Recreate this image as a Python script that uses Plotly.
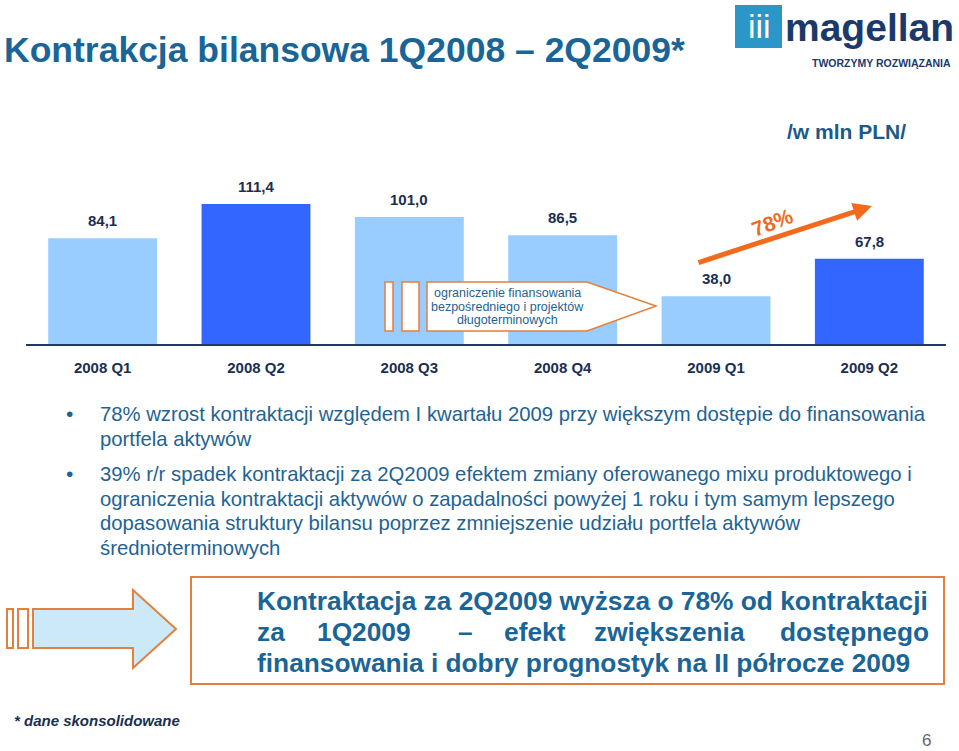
import plotly.graph_objects as go

# dane
kwartaly = ['2008 Q1', '2008 Q2', '2008 Q3', '2008 Q4', '2009 Q1', '2009 Q2']
kontraktacja = [84.1, 111.4, 101.0, 86.5, 38.0, 67.8]
kolory = ['#99CCFF', '#3366FF', '#99CCFF', '#99CCFF', '#99CCFF', '#3366FF']

punkt1 = ['78% wzrost kontraktacji względem I kwartału 2009 przy większym dostępie do finansowania',
          'portfela aktywów']
punkt2 = ['39% r/r spadek kontraktacji za 2Q2009 efektem zmiany oferowanego mixu produktowego i',
          'ograniczenia kontraktacji aktywów o zapadalności powyżej 1 roku i tym samym lepszego',
          'dopasowania struktury bilansu poprzez zmniejszenie udziału portfela aktywów',
          'średnioterminowych']
dymek = ['ograniczenie finansowania', 'bezpośredniego i projektów', 'długoterminowych']

W, H = 959, 751
NAVY = '#1B2F52'
TEAL = '#1E6394'
ORANGE = '#E2803E'
FONT = 'Arial, Liberation Sans, sans-serif'


def px(x):
    return x / W


def py(y):
    return 1 - y / H


def path(points):
    s = 'M ' + ' L '.join(f'{px(x):.5f} {py(y):.5f}' for x, y in points)
    return s + ' Z'


def text(x, y, t, size, color=TEAL, bold=False, anchor='left', italic=False, angle=0):
    if bold:
        t = '<b>' + t + '</b>'
    if italic:
        t = '<i>' + t + '</i>'
    return dict(x=px(x), y=py(y), xref='paper', yref='paper', text=t, showarrow=False,
                xanchor=anchor, yanchor='middle', textangle=angle, borderpad=0,
                font=dict(family=FONT, size=size, color=color))


fig = go.Figure(go.Bar(x=kwartaly, y=kontraktacja, marker=dict(color=kolory, line=dict(width=0)),
                       width=0.71, hoverinfo='skip'))

ann = []
for k, v in zip(kwartaly, kontraktacja):
    ann.append(dict(x=k, y=v, xref='x', yref='y', text='<b>' + f'{v:.1f}'.replace('.', ',') + '</b>',
                    showarrow=False, yanchor='bottom', yshift=7,
                    font=dict(family=FONT, size=15, color=NAVY)))

# tytul i logo
ann.append(text(3, 50, 'Kontrakcja bilansowa 1Q2008 – 2Q2009*', 35.5, color='#1A6597', bold=True))
ann.append(text(907, 132, '/w mln PLN/', 21, color='#1A5A8A', bold=True, anchor='right'))
ann.append(text(759, 26, 'iii', 34, color='white', anchor='center'))
ann.append(text(869, 27, '<b>magellan</b>', 39, color='#1B3A6B', anchor='center'))
ann.append(text(952, 63, '<b>TWORZYMY ROZWIĄZANIA</b>', 10.5, color='#1B3A6B', anchor='right'))

# strzalka 78%
ann.append(dict(x=px(872), y=py(206), xref='paper', yref='paper', ax=697 - 872, ay=263 - 206,
                axref='pixel', ayref='pixel', text='', showarrow=True, arrowhead=2,
                arrowsize=0.75, arrowwidth=5, arrowcolor='#F26B1D'))
ann.append(text(772, 222, '78%', 21, color='#F26B1D', bold=True, anchor='center', angle=-21))

# dymek
for i, t in enumerate(dymek):
    ann.append(text(507, 293 + i * 13.5, t, 12.5, color=TEAL, anchor='center'))

# punkty
ann.append(text(65, 413, '•', 21, color=TEAL))
for i, t in enumerate(punkt1):
    ann.append(text(99, 414 + i * 25, t, 20.3))
ann.append(text(65, 473, '•', 21, color=TEAL))
for i, t in enumerate(punkt2):
    ann.append(text(99, 474 + i * 24.5, t, 20.3))

# ramka z wnioskiem
ann.append(text(256, 601, 'Kontraktacja za 2Q2009 wyższa o 78% od kontraktacji', 26.3, color='#1A6597', bold=True))
for x, t, a in [(256, 'za', 'left'), (364, '1Q2009', 'center'), (465, '–', 'center'),
                (535, 'efekt', 'center'), (669, 'zwiększenia', 'center'), (930, 'dostępnego', 'right')]:
    ann.append(text(x, 632, t, 26.3, color='#1A6597', bold=True, anchor=a))
ann.append(text(256, 663, 'finansowania i dobry prognostyk na II półrocze 2009', 26.3, color='#1A6597', bold=True))

ann.append(text(13, 720, '* dane skonsolidowane', 15, color=NAVY, bold=True, italic=True))
ann.append(text(932, 740, '6', 17, color='#666666', anchor='right'))

shapes = [
    # logo
    dict(type='rect', xref='paper', yref='paper', x0=px(735), x1=px(782), y0=py(48), y1=py(5),
         fillcolor='#2B96C8', line=dict(width=0), layer='below'),
    # dymek
    dict(type='rect', xref='paper', yref='paper', x0=px(385), x1=px(393), y0=py(331), y1=py(282),
         fillcolor='white', line=dict(color=ORANGE, width=1.5)),
    dict(type='rect', xref='paper', yref='paper', x0=px(402), x1=px(419), y0=py(331), y1=py(282),
         fillcolor='white', line=dict(color=ORANGE, width=1.5)),
    dict(type='path', xref='paper', yref='paper',
         path=path([(427, 282), (587, 282), (656, 306), (587, 331), (427, 331)]),
         fillcolor='white', line=dict(color=ORANGE, width=1.5)),
    # duza strzalka
    dict(type='rect', xref='paper', yref='paper', x0=px(7), x1=px(13), y0=py(648), y1=py(609),
         fillcolor='white', line=dict(color=ORANGE, width=2)),
    dict(type='rect', xref='paper', yref='paper', x0=px(18), x1=px(28), y0=py(648), y1=py(609),
         fillcolor='white', line=dict(color=ORANGE, width=2)),
    dict(type='path', xref='paper', yref='paper',
         path=path([(33, 609), (133, 609), (133, 590), (176, 629), (133, 668), (133, 648), (33, 648)]),
         fillcolor='#CCE9FA', line=dict(color=ORANGE, width=2)),
    # ramka
    dict(type='rect', xref='paper', yref='paper', x0=px(191), x1=px(944), y0=py(684), y1=py(577),
         fillcolor='white', line=dict(color=ORANGE, width=2)),
]

fig.update_layout(
    width=W, height=H, autosize=False,
    margin=dict(l=0, r=0, t=0, b=0),
    paper_bgcolor='white', plot_bgcolor='white',
    showlegend=False,
    xaxis=dict(domain=[px(26), px(946)], range=[-0.5, 5.5], showline=True, linecolor='#1F3864',
               linewidth=1.5, showgrid=False, zeroline=False, ticks='', ticklabelstandoff=9,
               tickfont=dict(family=FONT, size=15, color=NAVY), tickprefix='<b>', ticksuffix='</b>',
               fixedrange=True),
    yaxis=dict(domain=[py(344), py(168)], range=[0, 140], visible=False, fixedrange=True),
    annotations=ann,
    shapes=shapes,
)

fig.write_html("out.html", config={'displayModeBar': False},
               post_script="document.body.style.margin='0';document.body.style.overflow='hidden';")
